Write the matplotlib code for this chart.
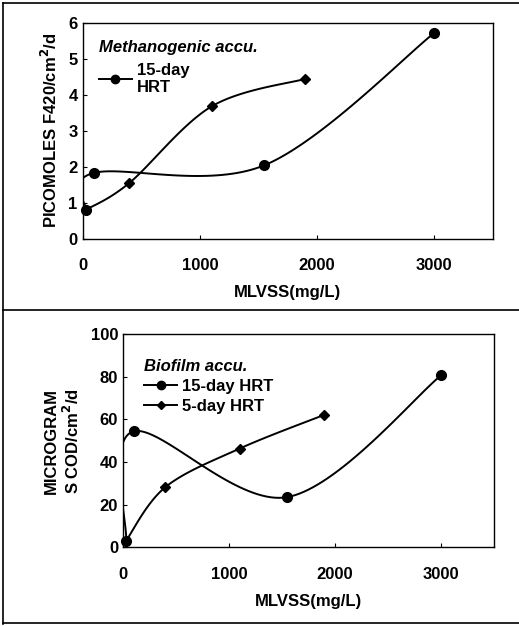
import numpy as np
import matplotlib.pyplot as plt
from matplotlib.lines import Line2D

plt.rcParams['font.family'] = ['Liberation Sans', 'DejaVu Sans']
plt.rcParams['font.weight'] = 'bold'
plt.rcParams['axes.labelweight'] = 'bold'

# top panel: methanogenic accumulation
top_x15 = [30, 100, 1550, 3000]
top_y15 = [0.8, 1.83, 2.04, 5.73]
top_x5 = [30, 400, 1100, 1900]
top_y5 = [0.8, 1.55, 3.68, 4.45]

# bottom panel: biofilm accumulation
bot_x15 = [30, 100, 1550, 3000]
bot_y15 = [3.1, 54.4, 23.5, 80.7]
bot_x5 = [30, 400, 1100, 1900]
bot_y5 = [3.1, 28.2, 46.3, 62.2]


def smooth(ax, xs, ys, n=40):
    # excel-like bezier smoothing done in screen space
    pts = ax.transData.transform(np.column_stack([xs, ys]))
    out = []
    for i in range(len(pts) - 1):
        p0 = pts[i - 1] if i > 0 else pts[i]
        p1 = pts[i]
        p2 = pts[i + 1]
        p3 = pts[i + 2] if i + 2 < len(pts) else pts[i + 1]
        c1 = p1 + (p2 - p0) / 6
        c2 = p2 - (p3 - p1) / 6
        t = np.linspace(0, 1, n)[:, None]
        seg = ((1 - t) ** 3) * p1 + 3 * ((1 - t) ** 2) * t * c1 + 3 * (1 - t) * t ** 2 * c2 + t ** 3 * p2
        out.append(seg)
    out = np.vstack(out)
    d = ax.transData.inverted().transform(out)
    return d[:, 0], d[:, 1]


fig = plt.figure(figsize=(5.19, 6.26), dpi=100)
ax1 = fig.add_axes([0.159, 0.619, 0.791, 0.344])
ax2 = fig.add_axes([0.237, 0.126, 0.715, 0.340])

for ax in (ax1, ax2):
    ax.set_xlim(0, 3500)
    ax.set_xticks([0, 1000, 2000, 3000])
    ax.tick_params(direction='in', length=3, labelsize=12, width=0.8)
    for s in ax.spines.values():
        s.set_linewidth(1.0)
ax1.set_ylim(0, 6)
ax1.set_yticks(range(0, 7))
ax2.set_ylim(0, 100)
ax2.set_yticks(range(0, 101, 20))
ax1.tick_params(axis='x', pad=14)
ax2.tick_params(axis='x', pad=14)

ms_c = 7
ms_d = 5
lw = 1.4
for ax, x15, y15, x5, y5 in [(ax1, top_x15, top_y15, top_x5, top_y5),
                             (ax2, bot_x15, bot_y15, bot_x5, bot_y5)]:
    sx, sy = smooth(ax, x15, y15)
    ax.plot(sx, sy, color='black', lw=lw)
    ax.plot(x15, y15, 'o', color='black', ms=ms_c, clip_on=False)
    sx, sy = smooth(ax, x5, y5)
    ax.plot(sx, sy, color='black', lw=lw)
    ax.plot(x5, y5, 'D', color='black', ms=ms_d, clip_on=False)

ax1.set_xlabel('MLVSS(mg/L)', fontsize=12, labelpad=9)
ax1.set_ylabel('PICOMOLES F420/cm$^2$/d', fontsize=12, labelpad=6)
ax2.set_xlabel('MLVSS(mg/L)', fontsize=12, labelpad=9)
ax2.set_ylabel('MICROGRAM\nS COD/cm$^2$/d', fontsize=12, labelpad=6)

h15 = Line2D([], [], color='black', lw=lw, marker='o', ms=6)
h5 = Line2D([], [], color='black', lw=lw, marker='D', ms=4.5)

leg1 = ax1.legend([h15], ['15-day\nHRT'], title='Methanogenic accu.', loc='upper left',
                  frameon=False, alignment='left', fontsize=12, handlelength=2.0,
                  bbox_to_anchor=(0.015, 0.97), borderaxespad=0.2, handletextpad=0.3)
leg1.get_title().set_fontstyle('italic')
leg1.get_title().set_fontsize(12)

leg2 = ax2.legend([h15, h5], ['15-day HRT', '5-day HRT'], title='Biofilm accu.', loc='upper left',
                  frameon=False, alignment='left', fontsize=12, handlelength=2.0,
                  bbox_to_anchor=(0.03, 0.93), borderaxespad=0.2, handletextpad=0.3,
                  labelspacing=0.3)
leg2.get_title().set_fontstyle('italic')
leg2.get_title().set_fontsize(12)

# outer frame lines
fig.add_artist(Line2D([0.006, 1.0], [0.995, 0.995], color='black', lw=1.2))
fig.add_artist(Line2D([0.006, 0.006], [0.003, 0.995], color='black', lw=1.2))
fig.add_artist(Line2D([0.006, 1.0], [0.505, 0.505], color='black', lw=1.2))
fig.add_artist(Line2D([0.006, 1.0], [0.004, 0.004], color='black', lw=1.2))

fig.savefig('out.png', dpi=100)
